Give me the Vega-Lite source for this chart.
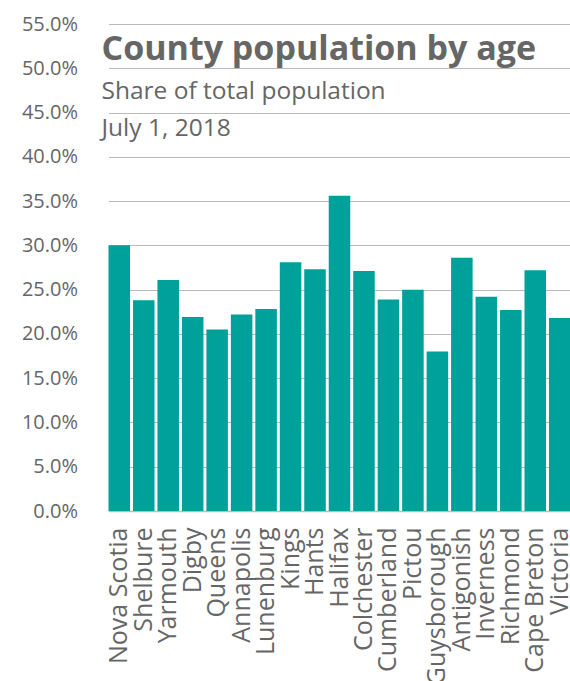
{
  "$schema": "https://vega.github.io/schema/vega-lite/v6.json",
  "width": 462,
  "height": 487,
  "autosize": "none",
  "padding": {"left": 108.5, "top": 24, "right": 0, "bottom": 170},
  "background": "white",
  "title": {
    "text": "County population by age",
    "subtitle": ["Share of total population", "July 1, 2018"],
    "anchor": "start",
    "frame": "group",
    "orient": "top",
    "font": "Open Sans",
    "fontSize": 34,
    "fontWeight": "bold",
    "color": "#666666",
    "subtitleFont": "Open Sans",
    "subtitleFontSize": 24.5,
    "subtitleColor": "#666666",
    "subtitleLineHeight": 37,
    "subtitlePadding": 13,
    "dx": -7,
    "dy": 130
  },
  "data": {
    "values": [
      {"county": "Nova Scotia", "share": 0.300},
      {"county": "Shelbure", "share": 0.238},
      {"county": "Yarmouth", "share": 0.261},
      {"county": "Digby", "share": 0.219},
      {"county": "Queens", "share": 0.205},
      {"county": "Annapolis", "share": 0.222},
      {"county": "Lunenburg", "share": 0.228},
      {"county": "Kings", "share": 0.281},
      {"county": "Hants", "share": 0.273},
      {"county": "Halifax", "share": 0.356},
      {"county": "Colchester", "share": 0.271},
      {"county": "Cumberland", "share": 0.239},
      {"county": "Pictou", "share": 0.250},
      {"county": "Guysborough", "share": 0.180},
      {"county": "Antigonish", "share": 0.286},
      {"county": "Inverness", "share": 0.242},
      {"county": "Richmond", "share": 0.227},
      {"county": "Cape Breton", "share": 0.272},
      {"county": "Victoria", "share": 0.218}
    ]
  },
  "mark": {"type": "bar", "color": "#00A19A"},
  "encoding": {
    "x": {
      "field": "county",
      "type": "nominal",
      "sort": null,
      "scale": {"paddingInner": 0.12, "paddingOuter": 0},
      "axis": {
        "title": null,
        "labelAngle": -90,
        "labelFont": "Open Sans",
        "labelFontSize": 25,
        "labelColor": "#666666",
        "labelPadding": 16,
        "labelOverlap": false,
        "labelBound": false,
        "ticks": false,
        "domainColor": "#bbbbbb",
        "domainWidth": 1.5
      }
    },
    "y": {
      "field": "share",
      "type": "quantitative",
      "scale": {"domain": [0, 0.55], "nice": false},
      "axis": {
        "title": null,
        "format": ".1%",
        "values": [0, 0.05, 0.1, 0.15, 0.2, 0.25, 0.3, 0.35, 0.4, 0.45, 0.5, 0.55],
        "labelFont": "Open Sans",
        "labelFontSize": 20,
        "labelColor": "#666666",
        "labelPadding": 31,
        "labelOverlap": false,
        "ticks": false,
        "domain": false,
        "gridColor": "#bbbbbb",
        "gridWidth": 1.2
      }
    }
  },
  "config": {"view": {"stroke": null}}
}
